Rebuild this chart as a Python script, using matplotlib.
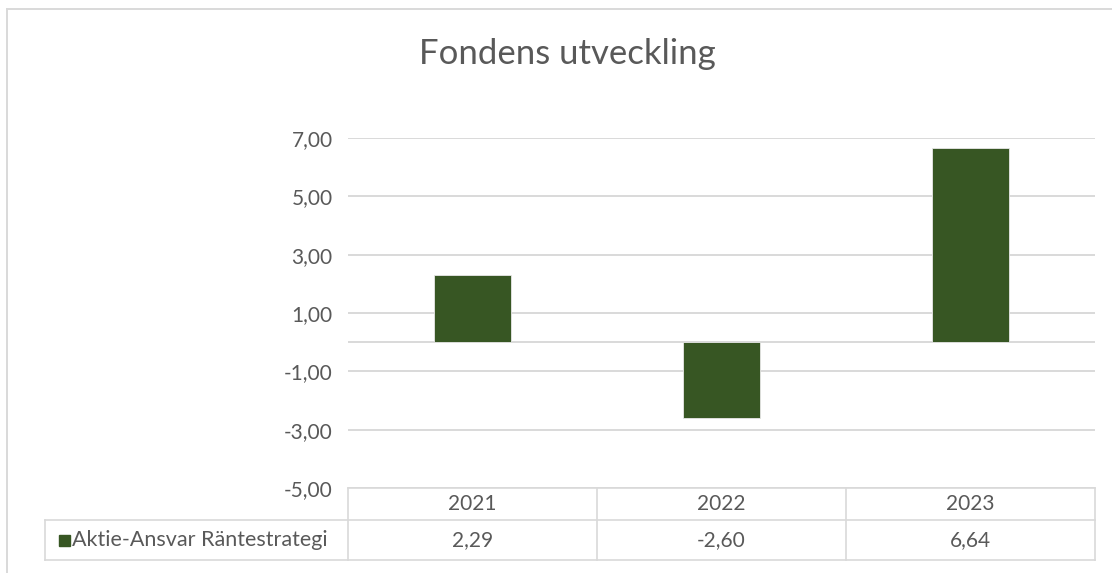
import matplotlib.pyplot as plt
from matplotlib.lines import Line2D
from matplotlib.patches import Rectangle

plt.rcParams['font.family'] = ['Lato', 'DejaVu Sans']

years = ['2021', '2022', '2023']
values = [2.29, -2.60, 6.64]
value_labels = ['2,29', '-2,60', '6,64']
series_name = 'Aktie-Ansvar Räntestrategi'
yticks = [-5, -3, -1, 1, 3, 5, 7]

bar_color = '#375623'
grid_color = '#d9d9d9'
text_color = '#595959'

fig = plt.figure(figsize=(11.12, 5.73), dpi=100)
ax = fig.add_axes([348 / 1112, 1 - 488 / 573, (1095 - 348) / 1112, 350 / 573])

x = list(range(len(years)))
ax.bar(x, values, width=0.31, color=bar_color, edgecolor='#e8e8e8', linewidth=0.6, zorder=3)

ax.set_xlim(-0.5, len(years) - 0.5)
ax.set_ylim(-5, 7)
ax.set_yticks(yticks)
ax.set_yticklabels([f'{v:.2f}'.replace('.', ',') for v in yticks])
ax.set_xticks([])
ax.tick_params(axis='y', length=0, pad=11, labelsize=15, labelcolor=text_color)
ax.grid(axis='y', color=grid_color, linewidth=1.4, zorder=0)
ax.axhline(0, color=grid_color, linewidth=1.4, zorder=1)
for s in ax.spines.values():
    s.set_visible(False)

# title
fig.text(567 / 1112, 1 - 54 / 573, 'Fondens utveckling', ha='center', va='center',
         fontsize=25, color=text_color)

# data table under the axis (x in data units, y in axes units)
tr = ax.get_xaxis_transform()
h = 350.0
y_top = 0.0
y_mid = -(520 - 488) / h
y_bot = -(560 - 488) / h
lw = 1.2
for xv in [-0.5, 0.5, 1.5, 2.5]:
    ax.add_line(Line2D([xv, xv], [y_top, y_bot], transform=tr, color=grid_color,
                       linewidth=lw, clip_on=False))
ax.add_line(Line2D([-0.5, 2.5], [y_top, y_top], transform=tr, color=grid_color,
                   linewidth=lw, clip_on=False))

# rows that extend to the legend cell (axes fraction for x)
x_left = (45 - 348) / (1095 - 348)
for yv in [y_mid, y_bot]:
    ax.add_line(Line2D([x_left, 1], [yv, yv], transform=ax.transAxes, color=grid_color,
                       linewidth=lw, clip_on=False))
ax.add_line(Line2D([x_left, x_left], [y_mid, y_bot], transform=ax.transAxes,
                   color=grid_color, linewidth=lw, clip_on=False))

for xi, yr, lab in zip(x, years, value_labels):
    ax.text(xi, (y_top + y_mid) / 2, yr, transform=tr, ha='center', va='center',
            fontsize=15, color=text_color)
    ax.text(xi, (y_mid + y_bot) / 2, lab, transform=tr, ha='center', va='center',
            fontsize=15, color=text_color)

# legend key in the table
key_x = (59 - 348) / (1095 - 348)
key_w = 11 / (1095 - 348)
key_h = 11 / h
y_row = (y_mid + y_bot) / 2
ax.add_patch(Rectangle((key_x, y_row - key_h / 2), key_w, key_h, transform=ax.transAxes,
                       color=bar_color, clip_on=False))
ax.text((72 - 348) / (1095 - 348), y_row, series_name, transform=ax.transAxes,
        ha='left', va='center', fontsize=15.5, color=text_color)

# chart area border (left and top visible)
fig.add_artist(Line2D([7 / 1112, 7 / 1112], [0, 1 - 9 / 573], transform=fig.transFigure,
                      color=grid_color, linewidth=1.4))
fig.add_artist(Line2D([7 / 1112, 1], [1 - 9 / 573, 1 - 9 / 573], transform=fig.transFigure,
                      color=grid_color, linewidth=1.4))

fig.savefig('out.png', dpi=100)
